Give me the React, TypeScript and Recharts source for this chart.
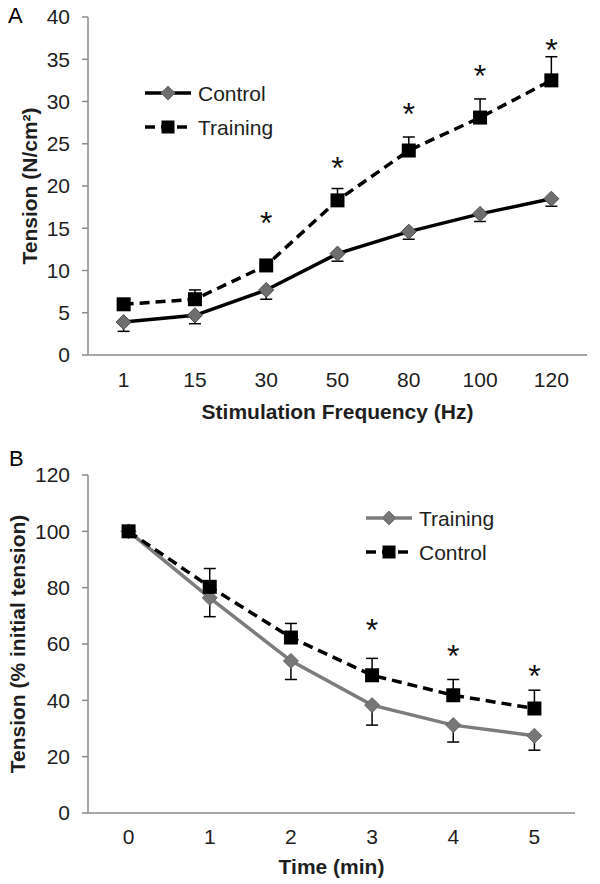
import React from 'react';
import { LineChart, Line, XAxis, YAxis, ErrorBar, Label, Legend } from 'recharts';

// ---------- Panel A data ----------
const freqLabels = ['1', '15', '30', '50', '80', '100', '120'];
const controlA = [3.9, 4.7, 7.7, 12.0, 14.6, 16.7, 18.5];
const controlALowErr = [1.1, 1.0, 1.1, 0.9, 0.9, 0.9, 0.9];
const trainingA = [6.0, 6.6, 10.6, 18.3, 24.2, 28.1, 32.5];
const trainingAHighErr = [0.3, 1.1, 0.4, 1.4, 1.6, 2.2, 2.8];
const starsA = [null, null, 16.4, 22.9, 29.3, 33.9, 36.9];
const yTicksA = [0, 5, 10, 15, 20, 25, 30, 35, 40];

// ---------- Panel B data ----------
const timeLabels = ['0', '1', '2', '3', '4', '5'];
const trainingB = [100, 76.4, 54.0, 38.3, 31.2, 27.4];
const trainingBLowErr = [0, 6.7, 6.6, 7.1, 6.0, 5.1];
const controlB = [100, 80.3, 62.3, 48.9, 41.8, 37.1];
const controlBHighErr = [0, 6.5, 5.0, 6.0, 5.6, 6.5];
const starsB = [null, null, null, 67.5, 58.2, 51.3];
const yTicksB = [0, 20, 40, 60, 80, 100, 120];

const dataA = freqLabels.map((label, i) => ({
  pos: i,
  label,
  control: controlA[i],
  controlErr: [controlALowErr[i], 0],
  training: trainingA[i],
  trainingErr: [0, trainingAHighErr[i]],
  star: starsA[i],
}));

const dataB = timeLabels.map((label, i) => ({
  pos: i,
  label,
  training: trainingB[i],
  trainingErr: [trainingBLowErr[i], 0],
  control: controlB[i],
  controlErr: [0, controlBHighErr[i]],
  star: starsB[i],
}));

const FONT = '"Liberation Sans", Arial, sans-serif';
const AXIS = '#8a8a8a';
const TEXT = '#1e1e1e';

const boundsOf = (n: number) => {
  const arr: number[] = [];
  for (let i = 0; i <= n; i++) arr.push(i - 0.5);
  return arr;
};
const centersOf = (n: number) => {
  const arr: number[] = [];
  for (let i = 0; i < n; i++) arr.push(i);
  return arr;
};

const makeDiamond = (fill: string, stroke: string) => (props: any) => {
  const { cx, cy, index } = props;
  if (cx == null || cy == null || isNaN(cy)) return <g key={`d-${index}`} />;
  const r = 7.5;
  return (
    <polygon
      key={`d-${index}`}
      points={`${cx},${cy - r} ${cx + r},${cy} ${cx},${cy + r} ${cx - r},${cy}`}
      fill={fill}
      stroke={stroke}
      strokeWidth={1}
    />
  );
};

const makeSquare = (fill: string) => (props: any) => {
  const { cx, cy, index } = props;
  if (cx == null || cy == null || isNaN(cy)) return <g key={`s-${index}`} />;
  const h = 7;
  return <rect key={`s-${index}`} x={cx - h} y={cy - h} width={h * 2} height={h * 2} fill={fill} />;
};

const renderStar = (props: any) => {
  const { cx, cy, index, value } = props;
  if (cx == null || cy == null || value == null || isNaN(cy)) return <g key={`st-${index}`} />;
  return (
    <text
      key={`st-${index}`}
      x={cx}
      y={cy + 18}
      textAnchor="middle"
      fontSize={32}
      fontFamily={FONT}
      fill="#111"
    >
      *
    </text>
  );
};

type LegendRow = { name: string; color: string; dashed: boolean; marker: 'diamond' | 'square'; markerFill: string };

const makeLegend = (rows: LegendRow[]) => () => (
  <svg width={150} height={64} style={{ overflow: 'visible', display: 'block' }}>
    {rows.map((r, i) => {
      const y = 12 + i * 34;
      return (
        <g key={r.name}>
          <line
            x1={0}
            y1={y}
            x2={46}
            y2={y}
            stroke={r.color}
            strokeWidth={3.5}
            strokeDasharray={r.dashed ? '10 6' : undefined}
          />
          {r.marker === 'diamond' ? (
            <polygon points={`23,${y - 7} 30,${y} 23,${y + 7} 16,${y}`} fill={r.markerFill} stroke={r.markerFill} />
          ) : (
            <rect x={16.5} y={y - 6.5} width={13} height={13} fill={r.markerFill} />
          )}
          <text x={53} y={y} dy="0.36em" fontSize={21} fontFamily={FONT} fill={TEXT}>
            {r.name}
          </text>
        </g>
      );
    })}
  </svg>
);

const yTitle = (text: string, x: number) => (props: any) => {
  const vb = props.viewBox || {};
  const cy = vb.y + vb.height / 2;
  return (
    <text
      x={x}
      y={cy}
      dy="0.36em"
      transform={`rotate(-90 ${x} ${cy})`}
      textAnchor="middle"
      fontSize={21}
      fontWeight="bold"
      fontFamily={FONT}
      fill={TEXT}
    >
      {text}
    </text>
  );
};

const tickStyle = { fontSize: 21, fill: TEXT, fontFamily: FONT };

export default function App() {
  return (
    <div style={{ position: 'absolute', left: 0, top: 0, width: 600, height: 884, background: '#fff', fontFamily: FONT }}>
      {/* Panel A */}
      <div style={{ position: 'absolute', left: 0, top: 0 }}>
        <LineChart width={600} height={440} data={dataA} margin={{ top: 17, right: 13, bottom: 45, left: 0 }}>
          <XAxis
            xAxisId="bounds"
            type="number"
            dataKey="pos"
            domain={[-0.5, freqLabels.length - 0.5]}
            allowDataOverflow
            ticks={boundsOf(freqLabels.length)}
            interval={0}
            height={0}
            tick={false}
            tickSize={7}
            axisLine={false}
            tickLine={{ stroke: AXIS, strokeWidth: 1.5 }}
          />
          <XAxis
            xAxisId="main"
            type="number"
            dataKey="pos"
            domain={[-0.5, freqLabels.length - 0.5]}
            allowDataOverflow
            ticks={centersOf(freqLabels.length)}
            interval={0}
            tickFormatter={(v: number) => freqLabels[v] ?? ''}
            height={40}
            tickLine={false}
            tickSize={7}
            tickMargin={10}
            axisLine={{ stroke: AXIS, strokeWidth: 1.5 }}
            tick={tickStyle}
          >
            <Label
              value="Stimulation Frequency (Hz)"
              position="bottom"
              offset={9}
              style={{ fontSize: 21, fontWeight: 'bold', fill: TEXT, fontFamily: FONT }}
            />
          </XAxis>
          <YAxis
            type="number"
            domain={[0, 40]}
            ticks={yTicksA}
            interval={0}
            width={88}
            tickSize={6}
            tickMargin={12}
            axisLine={{ stroke: AXIS, strokeWidth: 1.5 }}
            tickLine={{ stroke: AXIS, strokeWidth: 1.5 }}
            tick={tickStyle}
            label={{ content: yTitle('Tension (N/cm²)', 29) }}
          />
          <Legend
            layout="horizontal"
            align="center"
            verticalAlign="middle"
            wrapperStyle={{ position: 'absolute', left: 145, top: 81, width: 150, height: 64 }}
            content={makeLegend([
              { name: 'Control', color: '#000', dashed: false, marker: 'diamond', markerFill: '#6e6e6e' },
              { name: 'Training', color: '#000', dashed: true, marker: 'square', markerFill: '#000' },
            ])}
          />
          <Line
            xAxisId="main"
            type="linear"
            dataKey="control"
            name="Control"
            stroke="#000"
            strokeWidth={3.5}
            dot={makeDiamond('#6e6e6e', '#4a4a4a')}
            activeDot={false}
            isAnimationActive={false}
          >
            <ErrorBar dataKey="controlErr" direction="y" width={6} stroke="#000" strokeWidth={1.5} />
          </Line>
          <Line
            xAxisId="main"
            type="linear"
            dataKey="training"
            name="Training"
            stroke="#000"
            strokeWidth={3.5}
            strokeDasharray="10 6"
            dot={makeSquare('#000')}
            activeDot={false}
            isAnimationActive={false}
          >
            <ErrorBar dataKey="trainingErr" direction="y" width={6} stroke="#000" strokeWidth={1.5} />
          </Line>
          <Line
            xAxisId="main"
            type="linear"
            dataKey="star"
            stroke="none"
            legendType="none"
            dot={renderStar}
            activeDot={false}
            isAnimationActive={false}
          />
        </LineChart>
      </div>

      {/* Panel B */}
      <div style={{ position: 'absolute', left: 0, top: 440 }}>
        <LineChart width={600} height={444} data={dataB} margin={{ top: 35, right: 25, bottom: 31, left: 0 }}>
          <XAxis
            xAxisId="bounds"
            type="number"
            dataKey="pos"
            domain={[-0.5, timeLabels.length - 0.5]}
            allowDataOverflow
            ticks={boundsOf(timeLabels.length)}
            interval={0}
            height={0}
            tick={false}
            tickSize={7}
            axisLine={false}
            tickLine={{ stroke: AXIS, strokeWidth: 1.5 }}
          />
          <XAxis
            xAxisId="main"
            type="number"
            dataKey="pos"
            domain={[-0.5, timeLabels.length - 0.5]}
            allowDataOverflow
            ticks={centersOf(timeLabels.length)}
            interval={0}
            tickFormatter={(v: number) => timeLabels[v] ?? ''}
            height={40}
            tickLine={false}
            tickSize={7}
            tickMargin={9}
            axisLine={{ stroke: AXIS, strokeWidth: 1.5 }}
            tick={tickStyle}
          >
            <Label
              value="Time (min)"
              position="bottom"
              offset={6}
              style={{ fontSize: 21, fontWeight: 'bold', fill: TEXT, fontFamily: FONT }}
            />
          </XAxis>
          <YAxis
            type="number"
            domain={[0, 120]}
            ticks={yTicksB}
            interval={0}
            width={88}
            tickSize={6}
            tickMargin={12}
            axisLine={{ stroke: AXIS, strokeWidth: 1.5 }}
            tickLine={{ stroke: AXIS, strokeWidth: 1.5 }}
            tick={tickStyle}
            label={{ content: yTitle('Tension (% initial tension)', 17) }}
          />
          <Legend
            layout="horizontal"
            align="center"
            verticalAlign="middle"
            wrapperStyle={{ position: 'absolute', left: 366, top: 66, width: 150, height: 64 }}
            content={makeLegend([
              { name: 'Training', color: '#7c7c7c', dashed: false, marker: 'diamond', markerFill: '#777' },
              { name: 'Control', color: '#000', dashed: true, marker: 'square', markerFill: '#000' },
            ])}
          />
          <Line
            xAxisId="main"
            type="linear"
            dataKey="training"
            name="Training"
            stroke="#7c7c7c"
            strokeWidth={3.5}
            dot={makeDiamond('#777', '#666')}
            activeDot={false}
            isAnimationActive={false}
          >
            <ErrorBar dataKey="trainingErr" direction="y" width={6} stroke="#000" strokeWidth={1.5} />
          </Line>
          <Line
            xAxisId="main"
            type="linear"
            dataKey="control"
            name="Control"
            stroke="#000"
            strokeWidth={3.5}
            strokeDasharray="10 6"
            dot={makeSquare('#000')}
            activeDot={false}
            isAnimationActive={false}
          >
            <ErrorBar dataKey="controlErr" direction="y" width={6} stroke="#000" strokeWidth={1.5} />
          </Line>
          <Line
            xAxisId="main"
            type="linear"
            dataKey="star"
            stroke="none"
            legendType="none"
            dot={renderStar}
            activeDot={false}
            isAnimationActive={false}
          />
        </LineChart>
      </div>

      {/* Panel letters */}
      <svg width={600} height={884} style={{ position: 'absolute', left: 0, top: 0, pointerEvents: 'none' }}>
        <text x={8} y={23} fontSize={22} fontFamily={FONT} fill="#000">A</text>
        <text x={9} y={466} fontSize={22} fontFamily={FONT} fill="#000">B</text>
      </svg>
    </div>
  );
}
